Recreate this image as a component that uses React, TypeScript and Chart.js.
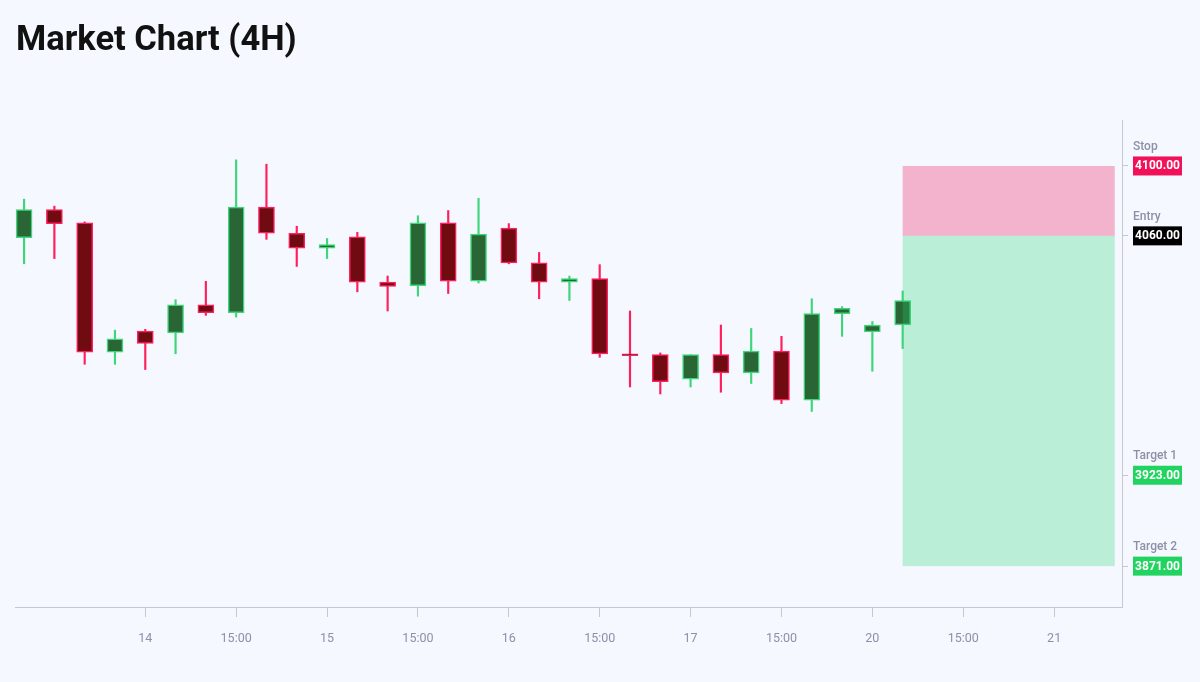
import { useEffect, useRef } from "react";
import { Chart, registerables } from "chart.js";
Chart.register(...registerables);

// 4H candles
const opens = [
  4059, 4075, 4067.5, 3993.5, 4005.5, 4004.5, 4020.5, 4016, 4076.5, 4061.5,
  4053, 4059.5, 4033.5, 4031.5, 4067.5, 4034, 4064.5, 4044.5, 4033.5, 4035.5,
  3992.5, 3992, 3978, 3992, 3981.5, 3994, 3966, 4015.5, 4005, 4009,
];
const highs = [
  4081, 4077, 4068, 4006, 4006.5, 4023.5, 4034, 4103.5, 4101, 4065.5,
  4058.5, 4062, 4037, 4071.5, 4074.5, 4081.5, 4067, 4050.5, 4037, 4043.5,
  4017, 3993, 3992, 4009, 4007, 4002.5, 4024, 4019.5, 4011, 4028.5,
];
const lows = [
  4044, 4047, 3986.5, 3986.5, 3983.5, 3992.5, 4014.5, 4013.5, 4058, 4042.5,
  4047, 4028, 4017, 4025.5, 4027, 4033, 4044, 4024, 4023, 3990.5,
  3973.5, 3969.5, 3973.5, 3970.5, 3975.5, 3964, 3959.5, 4002.5, 3982.5, 3995.5,
];
const closes = [
  4075, 4067, 3993.5, 4001, 3998.5, 4020.5, 4016, 4076.5, 4061.5, 4053,
  4055, 4033.5, 4031, 4067.5, 4034, 4061, 4044.5, 4033.5, 4035.5, 3992.5,
  3991.5, 3976.5, 3992, 3981.5, 3994, 3966, 4015.5, 4018.5, 4009, 4023,
];

const xTickPositions = [4, 7, 10, 13, 16, 19, 22, 25, 28, 31, 34];
const xTickLabels = ["14", "15:00", "15", "15:00", "16", "15:00", "17", "15:00", "20", "15:00", "21"];

const levelNames = ["Stop", "Entry", "Target 1", "Target 2"];
const levelValues = [4100, 4060, 3923, 3871];
const levelColors = ["#f2105a", "#000000", "#21d35f", "#21d35f"];

const zoneStart = 29;
const zoneEnd = 36;

const UP_FILL = "#2a6535";
const UP_LINE = "#3dd67a";
const DOWN_FILL = "#700b12";
const DOWN_LINE = "#ff1f5c";
const BG = "#f5f8fe";
const AXIS = "#c5c8d2";
const MUTED = "#8d90a8";

const backdrop = {
  id: "backdrop",
  beforeDraw(chart: any) {
    const { ctx, width, height } = chart;
    ctx.save();
    ctx.fillStyle = BG;
    ctx.fillRect(0, 0, width, height);
    ctx.restore();
  },
};

const zones = {
  id: "zones",
  afterDatasetsDraw(chart: any) {
    const { ctx, scales } = chart;
    const x0 = scales.x.getPixelForValue(zoneStart);
    const x1 = scales.x.getPixelForValue(zoneEnd);
    const yStop = scales.y.getPixelForValue(levelValues[0]);
    const yEntry = scales.y.getPixelForValue(levelValues[1]);
    const yT2 = scales.y.getPixelForValue(levelValues[3]);
    ctx.save();
    ctx.fillStyle = "rgba(242, 20, 90, 0.3)";
    ctx.fillRect(x0, yStop, x1 - x0, yEntry - yStop);
    ctx.fillStyle = "rgba(34, 209, 110, 0.27)";
    ctx.fillRect(x0, yEntry, x1 - x0, yT2 - yEntry);
    ctx.restore();
  },
};

const labels = {
  id: "labels",
  afterDraw(chart: any) {
    const { ctx, scales, chartArea } = chart;
    const left = chartArea.right + 11;
    ctx.save();
    levelValues.forEach((v, i) => {
      const y = scales.y.getPixelForValue(v);
      ctx.font = "500 12px Roboto";
      ctx.fillStyle = MUTED;
      ctx.textAlign = "left";
      ctx.textBaseline = "middle";
      ctx.fillText(levelNames[i], left, y - 19);
      ctx.fillStyle = levelColors[i];
      ctx.fillRect(left, y - 9.5, 49, 19);
      ctx.font = "bold 12px Roboto";
      ctx.fillStyle = "#ffffff";
      ctx.textAlign = "center";
      ctx.fillText(v.toFixed(2), left + 24.5, y + 0.5);
    });
    ctx.font = "bold 34.5px Roboto";
    ctx.fillStyle = "#111111";
    ctx.textAlign = "left";
    ctx.textBaseline = "alphabetic";
    ctx.fillText("Market Chart (4H)", 16, 50);
    ctx.restore();
  },
};

export default function App() {
  const ref = useRef<HTMLCanvasElement>(null);

  useEffect(() => {
    if (!ref.current) return;
    const ups = opens.map((o, i) => closes[i] >= o);

    const chart = new Chart(ref.current, {
      type: "bar",
      data: {
        datasets: [
          {
            label: "body",
            data: opens.map((o, i) => ({ x: i, y: [o, closes[i]] })) as any,
            backgroundColor: ups.map((u) => (u ? UP_FILL : DOWN_FILL)),
            borderColor: ups.map((u) => (u ? UP_LINE : DOWN_LINE)),
            borderWidth: 1.5,
            borderSkipped: false,
            barThickness: 16,
            grouped: false,
          },
          {
            label: "wick",
            data: lows.map((l, i) => ({ x: i, y: [l, highs[i]] })) as any,
            backgroundColor: ups.map((u) => (u ? UP_LINE : DOWN_LINE)),
            borderWidth: 0,
            barThickness: 1.5,
            grouped: false,
          },
        ],
      },
      options: {
        animation: false,
        responsive: true,
        maintainAspectRatio: false,
        layout: { padding: { top: 120, left: 15 } },
        plugins: {
          legend: { display: false },
          tooltip: { enabled: false },
        },
        scales: {
          x: {
            type: "linear",
            offset: false,
            min: -0.3,
            max: 36.24,
            grid: { offset: false, drawOnChartArea: false, tickLength: 10, color: AXIS },
            border: { color: AXIS },
            ticks: {
              color: MUTED,
              font: { family: "Roboto", size: 12.5 },
              padding: 14,
              autoSkip: false,
              maxRotation: 0,
              callback: (_v: any, i: number) => xTickLabels[i],
            },
            afterBuildTicks: (s: any) => {
              s.ticks = xTickPositions.map((value) => ({ value }));
            },
            afterFit: (s: any) => {
              s.height = 75;
            },
          },
          y: {
            type: "linear",
            position: "right",
            min: 3847.6,
            max: 4126.3,
            grid: { drawOnChartArea: false, tickLength: 6, color: AXIS },
            border: { color: AXIS },
            ticks: { display: false },
            afterBuildTicks: (s: any) => {
              s.ticks = levelValues.map((value) => ({ value }));
            },
            afterFit: (s: any) => {
              s.width = 78;
            },
          },
        },
      },
      plugins: [backdrop, zones, labels],
    });

    return () => chart.destroy();
  }, []);

  return (
    <div style={{ position: "fixed", left: 0, top: 0, width: "1200px", height: "682px", background: BG }}>
      <canvas ref={ref}></canvas>
    </div>
  );
}
